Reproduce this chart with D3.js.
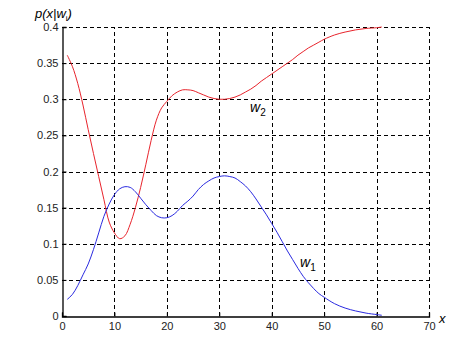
<!DOCTYPE html>
<html>
<head>
<meta charset="utf-8">
<script src="https://cdn.jsdelivr.net/npm/d3@7"></script>
<style>
  body { margin: 0; background: #fff; }
  text { font-family: "Liberation Sans", Arial, sans-serif; }
</style>
</head>
<body>
<div id="chart"></div>
<script>
const width = 474;
const height = 355;

// x positions of the samples
const xs = [1, 2, 3, 4, 5, 6, 7, 8, 9, 10, 11, 12, 13, 14, 15, 16, 17, 18, 19, 20,
  21, 22, 23, 24, 25, 26, 27, 28, 29, 30, 31, 32, 33, 34, 35, 36, 37, 38, 39, 40,
  41, 42, 43, 44, 45, 46, 47, 48, 49, 50, 52, 54, 56, 58, 60, 61];

// p(x|w1), blue
const w1 = [0.023, 0.030, 0.042, 0.057, 0.072, 0.092, 0.115, 0.138, 0.155, 0.168,
  0.176, 0.179, 0.178, 0.172, 0.163, 0.154, 0.146, 0.139, 0.136, 0.136,
  0.139, 0.145, 0.153, 0.159, 0.166, 0.175, 0.182, 0.187, 0.191, 0.193,
  0.194, 0.193, 0.191, 0.186, 0.180, 0.172, 0.162, 0.151, 0.140, 0.128,
  0.116, 0.103, 0.090, 0.078, 0.066, 0.055, 0.046, 0.038, 0.031, 0.026,
  0.017, 0.011, 0.007, 0.004, 0.002, 0.001];

// p(x|w2), red
const w2 = [0.361, 0.345, 0.322, 0.292, 0.258, 0.225, 0.193, 0.161, 0.130, 0.115,
  0.107, 0.111, 0.127, 0.150, 0.178, 0.210, 0.243, 0.271, 0.288, 0.297,
  0.305, 0.310, 0.313, 0.313, 0.312, 0.309, 0.306, 0.303, 0.301, 0.300,
  0.300, 0.301, 0.303, 0.306, 0.310, 0.314, 0.319, 0.325, 0.330, 0.335,
  0.340, 0.345, 0.350, 0.355, 0.361, 0.366, 0.371, 0.375, 0.379, 0.383,
  0.389, 0.393, 0.396, 0.398, 0.399, 0.400];

const xTicks = [0, 10, 20, 30, 40, 50, 60, 70];
const yTicks = [0, 0.05, 0.1, 0.15, 0.2, 0.25, 0.3, 0.35, 0.4];

const margin = { top: 27, right: 45, bottom: 39, left: 62 };

const x = d3.scaleLinear().domain([0, 70]).range([margin.left, width - margin.right]);
const y = d3.scaleLinear().domain([0, 0.4]).range([height - margin.bottom, margin.top]);

const svg = d3.select("#chart").append("svg")
    .attr("width", width)
    .attr("height", height);

// dashed grid
const grid = svg.append("g")
    .attr("stroke", "#000")
    .attr("stroke-width", 1)
    .attr("stroke-dasharray", "4,3")
    .attr("shape-rendering", "crispEdges");

grid.selectAll("line.v")
    .data(xTicks.slice(1))
    .join("line")
    .attr("class", "v")
    .attr("x1", d => Math.round(x(d)) + 0.5)
    .attr("x2", d => Math.round(x(d)) + 0.5)
    .attr("y1", y(0))
    .attr("y2", y(0.4));

grid.selectAll("line.h")
    .data(yTicks.slice(1))
    .join("line")
    .attr("class", "h")
    .attr("x1", x(0))
    .attr("x2", x(70))
    .attr("y1", d => Math.round(y(d)) + 0.5)
    .attr("y2", d => Math.round(y(d)) + 0.5);

// axes
const xAxis = svg.append("g")
    .attr("transform", `translate(0,${Math.round(y(0)) + 0.5})`)
    .call(d3.axisBottom(x).tickValues(xTicks).tickFormat(d3.format("d")).tickSize(-4).tickPadding(6));

const yAxis = svg.append("g")
    .attr("transform", `translate(${Math.round(x(0)) + 0.5},0)`)
    .call(d3.axisLeft(y).tickValues(yTicks).tickFormat(d => d === 0 ? "0" : String(d)).tickSize(-4).tickPadding(4));

[xAxis, yAxis].forEach(a => {
    a.select(".domain").attr("stroke", "#000").attr("stroke-width", 1.3);
    a.selectAll(".tick line").attr("stroke", "#000");
    a.selectAll(".tick text")
        .attr("font-size", 11)
        .attr("fill", "#222");
});

// curves
const line = d3.line()
    .x((d, i) => x(xs[i]))
    .y(d => y(d))
    .curve(d3.curveCatmullRom);

svg.append("path")
    .datum(w2)
    .attr("fill", "none")
    .attr("stroke", "#e8242c")
    .attr("stroke-width", 1)
    .attr("d", line);

svg.append("path")
    .datum(w1)
    .attr("fill", "none")
    .attr("stroke", "#2a2ae0")
    .attr("stroke-width", 1)
    .attr("d", line);

// curve labels
function classLabel(xPos, yPos, sub) {
    const t = svg.append("text")
        .attr("x", xPos)
        .attr("y", yPos)
        .attr("font-size", 14)
        .attr("font-style", "italic")
        .attr("fill", "#000");
    t.append("tspan").text("w");
    t.append("tspan").attr("font-size", 10).attr("font-style", "normal").attr("dy", 4).text(sub);
}
classLabel(250, 112, "2");
classLabel(300, 267, "1");

// axis titles
const yTitle = svg.append("text")
    .attr("x", 35)
    .attr("y", 18)
    .attr("font-size", 13)
    .attr("font-style", "italic")
    .attr("fill", "#000");
yTitle.append("tspan").text("p(x|w");
yTitle.append("tspan").attr("font-size", 8).attr("font-style", "normal").attr("dy", 3).text("i");
yTitle.append("tspan").attr("dy", -3).text(")");

svg.append("text")
    .attr("x", 439)
    .attr("y", 323)
    .attr("font-size", 13)
    .attr("font-style", "italic")
    .attr("fill", "#000")
    .text("x");
</script>
</body>
</html>
